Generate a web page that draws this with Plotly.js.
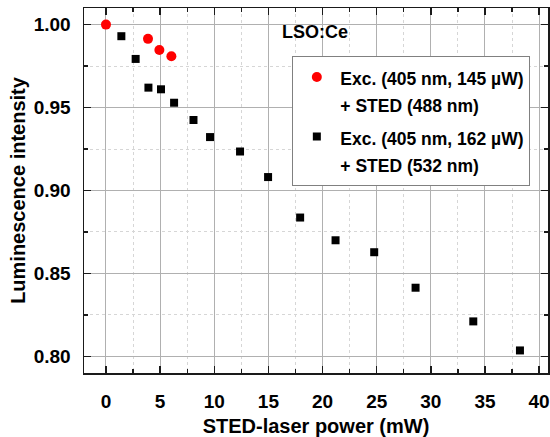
<!DOCTYPE html>
<html>
<head>
<meta charset="utf-8">
<script src="https://cdn.plot.ly/plotly-3.0.1.min.js"></script>
<style>html,body{margin:0;padding:0;background:#fff;}#chart{width:550px;height:437px;}</style>
</head>
<body>
<div id="chart"></div>
<script>
// Series 1: Exc. (405 nm, 145 µW) + STED (488 nm)
var redPower = [0, 3.88, 4.93, 6.04];
var redIntensity = [1.000, 0.9914, 0.9847, 0.9809];
// Series 2: Exc. (405 nm, 162 µW) + STED (532 nm)
var blackPower = [1.42, 2.74, 3.92, 5.08, 6.29, 8.08, 9.61, 12.38, 14.97, 17.93, 21.20, 24.77, 28.59, 33.92, 38.23];
var blackIntensity = [0.9930, 0.9793, 0.9620, 0.9610, 0.9529, 0.9425, 0.9322, 0.9235, 0.9081, 0.8837, 0.8700, 0.8628, 0.8414, 0.8211, 0.8036];
var redNameLines = ["Exc. (405 nm, 145 µW)", "+ STED (488 nm)"];
var blackNameLines = ["Exc. (405 nm, 162 µW)", "+ STED (532 nm)"];
var xTitle = "STED-laser power (mW)";
var yTitle = "Luminescence intensity";
var sampleLabel = "LSO:Ce";

var FONT = "Liberation Sans, Arial, sans-serif";

function legendName(lines) {
  return lines.map(function (s) { return '<span style="font-size:17.5px">' + s + '</span>'; }).join("<br>");
}

var traces = [
  {x: redPower, y: redIntensity, mode: "markers", type: "scatter", name: legendName(redNameLines),
   legendgroup: "g1",
   marker: {symbol: "circle", size: 10, color: "#ff0000"}},
  {x: blackPower, y: blackIntensity, mode: "markers", type: "scatter", name: legendName(blackNameLines),
   legendgroup: "g2",
   marker: {symbol: "square", size: 8, color: "#000000"}}
];

var axisCommon = {
  showline: true, linecolor: "#1a1a1a", linewidth: 1.5, mirror: "ticks",
  ticks: "inside", ticklen: 7, tickwidth: 1.5, tickcolor: "#1a1a1a",
  showgrid: true, gridcolor: "#b0b0b0", gridwidth: 1,
  zeroline: false,
  tickfont: {family: FONT, size: 19, color: "#000", weight: "bold"},
  minor: {ticks: "inside", ticklen: 4, tickwidth: 1.2, tickcolor: "#1a1a1a",
          showgrid: true, gridcolor: "#d6d6d6", griddash: "dot", gridwidth: 1}
};

var layout = {
  width: 550, height: 437,
  margin: {l: 84, r: 2, t: 8, b: 64},
  paper_bgcolor: "#fff", plot_bgcolor: "#fff",
  showlegend: true,
  xaxis: Object.assign({}, axisCommon, {
    range: [-2.03, 40.82], dtick: 5, tick0: 0,
    minor: Object.assign({}, axisCommon.minor, {dtick: 2.5}),
    ticklabelstandoff: 11,
    title: {text: xTitle, font: {family: FONT, size: 20, color: "#000", weight: "bold"}, standoff: 12}
  }),
  yaxis: Object.assign({}, axisCommon, {
    range: [0.790, 1.010], dtick: 0.05, tick0: 0.8, tickformat: ".2f",
    minor: Object.assign({}, axisCommon.minor, {dtick: 0.025}),
    ticklabelstandoff: 8,
    title: {text: yTitle, font: {family: FONT, size: 20, color: "#000", weight: "bold"}, standoff: 2}
  }),
  legend: {
    x: 0.449, y: 0.869, xanchor: "left", yanchor: "top",
    bgcolor: "#fff", bordercolor: "#808080", borderwidth: 1,
    font: {family: FONT, size: 21, color: "#000", weight: "bold"},
    valign: "top", itemwidth: 37, tracegroupgap: 2
  },
  annotations: [{
    text: sampleLabel, xref: "paper", yref: "paper", x: 0.4215, y: 0.934,
    xanchor: "left", yanchor: "middle", showarrow: false,
    font: {family: FONT, size: 18, color: "#000", weight: "bold"}
  }]
};

Plotly.newPlot("chart", traces, layout, {displayModeBar: false, staticPlot: true});
</script>
</body>
</html>
